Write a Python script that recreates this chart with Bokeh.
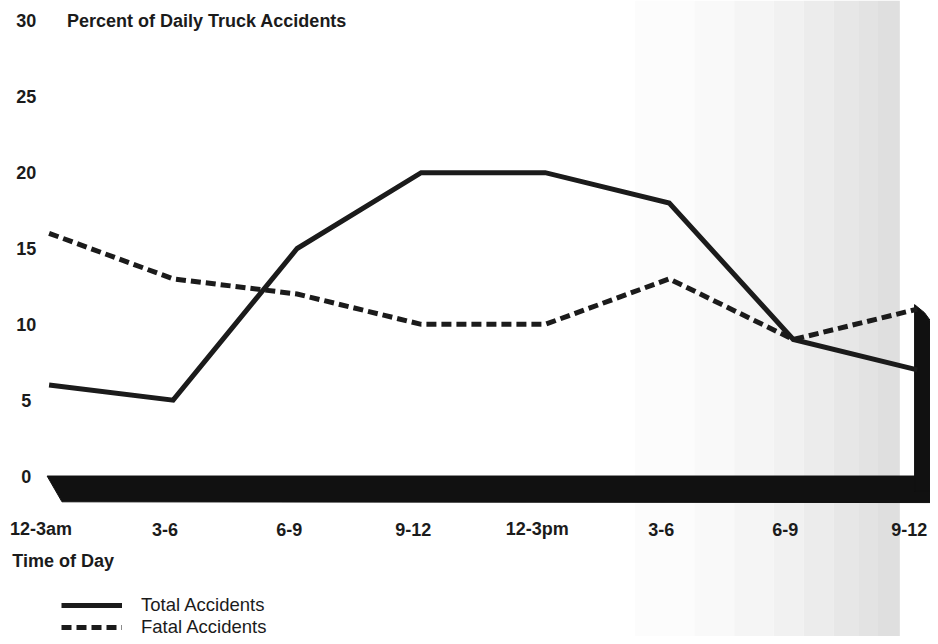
from bokeh.plotting import figure
from bokeh.models import Range1d, ColumnDataSource, Legend, LegendItem
from bokeh.core.properties import value
from bokeh.embed import file_html
from bokeh.resources import INLINE

# ---- data ----
time_labels = ["12-3am", "3-6", "6-9", "9-12", "12-3pm", "3-6", "6-9", "9-12"]
total_accidents = [6, 5, 15, 20, 20, 18, 9, 7]
fatal_accidents = [16, 13, 12, 10, 10, 13, 9, 11]
y_ticks = [0, 5, 10, 15, 20, 25, 30]
title_text = "Percent of Daily Truck Accidents"
x_title = "Time of Day"

FONT = value("Liberation Sans")
INK = "#1b1b1b"

x_idx = list(range(len(time_labels)))

p = figure(width=930, height=636, output_backend="svg", toolbar_location=None,
           x_range=Range1d(-0.3917, 7.1063), y_range=Range1d(-10.58, 31.35),
           min_border=0, outline_line_color=None, background_fill_color="white",
           border_fill_color="white")
p.xaxis.visible = False
p.yaxis.visible = False
p.xgrid.visible = False
p.ygrid.visible = False

# faint scan shading towards the right edge (decoration, soft steps)
shade_edges = [4.724, 5.204, 5.524, 5.843, 6.083, 6.323, 6.523, 6.683, 6.859]
shade_colors = ["#fcfcfc", "#f9f9f9", "#f5f5f5", "#f1f1f1", "#ececec",
                "#e7e7e7", "#e3e3e3", "#dfdfdf"]
p.quad(left=shade_edges[:-1], right=shade_edges[1:],
       bottom=[-10.58] * len(shade_colors), top=[31.35] * len(shade_colors),
       color=shade_colors, line_color=None)

# 3-D style base slab and right wall
p.patch([-0.016, 7.11, 7.11, 0.104], [0, 0, -1.75, -1.7], color="#111111")
p.patch([6.978, 7.058, 7.11, 7.11, 6.978], [11.3, 10.77, 10.19, -1.0, -1.0], color="#111111")

# series lines
src = ColumnDataSource(dict(x=x_idx, total=total_accidents, fatal=fatal_accidents))
r_total = p.line("x", "total", source=src, line_color=INK, line_width=5, line_join="miter")
r_fatal = p.line("x", "fatal", source=src, line_color=INK, line_width=5,
                 line_dash="10 5", line_join="miter")

# y tick labels
p.text(x=[-0.184] * len(y_ticks), y=y_ticks, text=[str(t) for t in y_ticks],
       text_font=FONT, text_font_style="bold", text_font_size="18px",
       text_color=INK, text_align="center", text_baseline="middle")

# title next to the top tick
p.text(x=[0.144], y=[y_ticks[-1]], text=[title_text], text_font=FONT,
       text_font_style="bold", text_font_size="18px", text_color=INK,
       text_align="left", text_baseline="middle")

# x tick labels
p.text(x=x_idx, y=[-3.5] * len(x_idx), text=time_labels, x_offset=-8,
       text_font=FONT, text_font_style="bold", text_font_size="18px",
       text_color=INK, text_align="center", text_baseline="middle")

# x axis title
p.text(x=[-0.297], y=[-5.6], text=[x_title], text_font=FONT,
       text_font_style="bold", text_font_size="18px", text_color=INK,
       text_align="left", text_baseline="middle")

legend = Legend(items=[LegendItem(label="Total Accidents", renderers=[r_total]),
                       LegendItem(label="Fatal Accidents", renderers=[r_fatal])],
                location=(61, -2), orientation="vertical",
                glyph_width=61, glyph_height=20, label_height=20, spacing=0,
                label_standoff=19, padding=0, margin=0,
                label_text_font="Liberation Sans", label_text_font_size="18.5px",
                label_text_color=INK, border_line_color=None,
                background_fill_alpha=0)
p.add_layout(legend, "center")

open("out.html", "w").write(file_html(p, INLINE))
